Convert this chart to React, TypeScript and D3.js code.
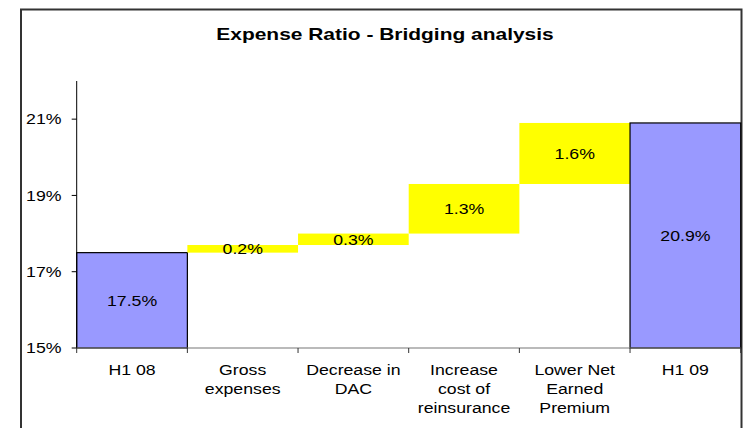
import React from "react";
import * as d3 from "d3";

const categories: string[][] = [
  ["H1 08"],
  ["Gross", "expenses"],
  ["Decrease in", "DAC"],
  ["Increase", "cost of", "reinsurance"],
  ["Lower Net", "Earned", "Premium"],
  ["H1 09"],
];
const starts = [15, 17.5, 17.7, 18.0, 19.3, 15];
const ends = [17.5, 17.7, 18.0, 19.3, 20.9, 20.9];
const labels = ["17.5%", "0.2%", "0.3%", "1.3%", "1.6%", "20.9%"];
const kinds = ["total", "step", "step", "step", "step", "total"];
const yTicks = [15, 17, 19, 21];

const SX = 1.18;

function SText(props: {
  x: number;
  y: number;
  anchor?: "start" | "middle" | "end";
  size?: number;
  bold?: boolean;
  sx?: number;
  children: React.ReactNode;
}) {
  const { x, y, anchor = "middle", size = 15, bold = false, sx = SX, children } = props;
  return (
    <g transform={`translate(${x},${y}) scale(${sx},1)`}>
      <text x={0} y={0} textAnchor={anchor} fontSize={size} fontWeight={bold ? "bold" : "normal"} fill="#000">
        {children}
      </text>
    </g>
  );
}

export default function App() {
  const W = 747, H = 428;
  const left = 76.7, right = 740.7, top = 81, bottom = 348;
  const x = d3.scaleBand<number>().domain(d3.range(categories.length)).range([left, right]).padding(0);
  const y = d3.scaleLinear().domain([15, 22]).range([bottom, top]);
  const font = "'Liberation Sans', Arial, sans-serif";
  return (
    <svg width={W} height={H} style={{ position: "absolute", left: 0, top: 0, background: "#fff" }} fontFamily={font}>
      <rect x={21} y={9.5} width={720.5} height={430} fill="#fff" stroke="#333" strokeWidth={2} />
      <SText x={385} y={40} size={16.5} bold sx={1.27}>
        Expense Ratio - Bridging analysis
      </SText>
      {categories.map((_, i) => {
        const x0 = x(i)!;
        const w = x.bandwidth();
        const yt = y(ends[i]);
        const yb = y(starts[i]);
        const isTotal = kinds[i] === "total";
        return (
          <g key={i}>
            <rect
              x={x0}
              y={yt}
              width={w}
              height={yb - yt}
              fill={isTotal ? "#9999ff" : "#ffff00"}
              stroke={isTotal ? "#000" : "none"}
              strokeWidth={1.2}
            />
            <SText x={x0 + w / 2} y={(yt + yb) / 2 + 5.3}>
              {labels[i]}
            </SText>
          </g>
        );
      })}
      {/* y axis */}
      <line x1={left} x2={left} y1={top} y2={bottom} stroke="#000" strokeWidth={1} />
      {yTicks.map((t) => (
        <g key={t}>
          <line x1={left - 5} x2={left} y1={y(t)} y2={y(t)} stroke="#000" />
          <SText x={61.5} y={y(t) + 5.3} anchor="end">
            {t}%
          </SText>
        </g>
      ))}
      {/* x axis */}
      <line x1={left} x2={right} y1={bottom} y2={bottom} stroke="#777" strokeWidth={1.2} />
      {d3.range(categories.length + 1).map((i) => {
        const xx = i < categories.length ? x(i)! : right;
        return <line key={i} x1={xx} x2={xx} y1={bottom} y2={bottom + 5} stroke="#333" />;
      })}
      {categories.map((lines, i) =>
        lines.map((l, j) => (
          <SText key={`${i}-${j}`} x={x(i)! + x.bandwidth() / 2} y={374.5 + j * 19}>
            {l}
          </SText>
        ))
      )}
    </svg>
  );
}
